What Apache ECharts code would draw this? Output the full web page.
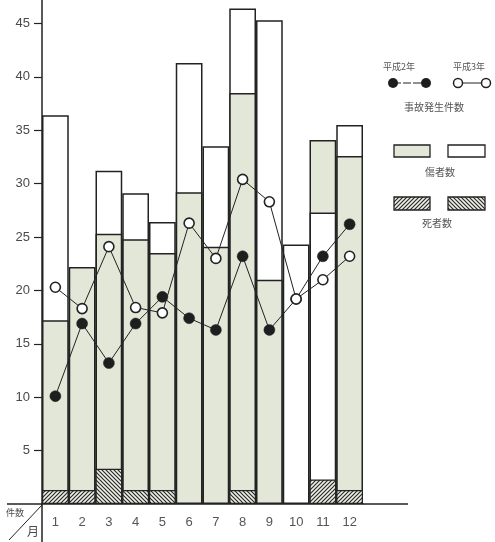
<!DOCTYPE html>
<html><head><meta charset="utf-8">
<script src="https://cdn.jsdelivr.net/npm/echarts@6/dist/echarts.min.js"></script>
<style>html,body{margin:0;padding:0;background:#fff}#c{width:495px;height:542px}</style>
</head><body><div id="c"></div>
<script>
const months = ['1','2','3','4','5','6','7','8','9','10','11','12'];
// 傷者数 平成2年 (green) / 平成3年 (white)
const injured2 = [17.2, 22.2, 25.3, 24.8, 23.5, 29.2, 24.1, 38.5, 21.0, null, 34.1, 32.6];
const injured3 = [36.4, null, 31.2, 29.1, 26.4, 41.3, 33.5, 46.4, 45.3, 24.3, 27.3, 35.5];
// 死者数 平成2年 (////) / 平成3年 (\\\\)
const deaths2 = [1.3, 1.3, null, null, null, null, null, null, null, null, 2.3, 1.3];
const deaths3 = [null, null, 3.3, 1.3, 1.3, null, null, 1.3, null, null, null, null];
// 事故発生件数
const accidents2 = [10.1, 16.9, 13.2, 16.9, 19.4, 17.4, 16.3, 23.2, 16.3, 19.2, 23.2, 26.2];
const accidents3 = [20.3, 18.3, 24.1, 18.4, 17.9, 26.3, 23.0, 30.4, 28.3, 19.2, 21.0, 23.2];
const yTicks = [5, 10, 15, 20, 25, 30, 35, 40, 45];

const GREEN = '#e3e7d8';
const INK = '#222';

function hatch(dir) {
  const s = 4, c = document.createElement('canvas');
  c.width = s; c.height = s;
  const g = c.getContext('2d');
  g.fillStyle = '#eef0e6'; g.fillRect(0, 0, s, s);
  g.strokeStyle = '#2a2a2a'; g.lineWidth = 1.2;
  g.beginPath();
  if (dir > 0) {
    g.moveTo(-1, s + 1); g.lineTo(s + 1, -1);
    g.moveTo(-1, 1); g.lineTo(1, -1);
    g.moveTo(s - 1, s + 1); g.lineTo(s + 1, s - 1);
  } else {
    g.moveTo(-1, -1); g.lineTo(s + 1, s + 1);
    g.moveTo(s - 1, -1); g.lineTo(s + 1, 1);
    g.moveTo(-1, s - 1); g.lineTo(1, s + 1);
  }
  g.stroke();
  return { image: c, repeat: 'repeat' };
}
const hatchFwd = hatch(1), hatchBack = hatch(-1);

// overlapped bars: taller value behind, shorter in front
const backData = [], frontData = [];
months.forEach((m, i) => {
  const a = injured2[i], b = injured3[i];
  const ca = { color: GREEN }, cb = { color: '#fff' };
  if (a == null && b == null) { backData.push('-'); frontData.push('-'); }
  else if (a == null) { backData.push({ value: b, itemStyle: cb }); frontData.push('-'); }
  else if (b == null) { backData.push({ value: a, itemStyle: ca }); frontData.push('-'); }
  else if (a >= b) { backData.push({ value: a, itemStyle: ca }); frontData.push({ value: b, itemStyle: cb }); }
  else { backData.push({ value: b, itemStyle: cb }); frontData.push({ value: a, itemStyle: ca }); }
});

const barBase = { type: 'bar', barGap: '-100%', barCategoryGap: '0%', silent: true };
const chart = echarts.init(document.getElementById('c'), null, { renderer: 'canvas' });
const txt = '#4a4a4a';
const FONT = '"Noto Sans CJK JP", "Liberation Sans", sans-serif';

chart.setOption({
  animation: false,
  backgroundColor: '#fff',
  grid: { left: 42, top: 0, width: 321, height: 504, containLabel: false },
  xAxis: {
    type: 'category', data: months,
    axisLine: { lineStyle: { color: INK, width: 1.5 } },
    axisTick: { show: false },
    axisLabel: { color: '#555', fontSize: 13, margin: 12, fontFamily: '"Liberation Sans", sans-serif' }
  },
  yAxis: {
    type: 'value', min: 0, max: 47.2, interval: 5,
    splitLine: { show: false },
    axisLine: { show: true, lineStyle: { color: INK, width: 1.5 } },
    axisTick: { show: true, length: 8, lineStyle: { color: INK, width: 1.2 }, customValues: yTicks },
    axisLabel: { color: txt, fontSize: 13, margin: 12, customValues: yTicks, fontFamily: '"Liberation Sans", sans-serif' }
  },
  series: [
    Object.assign({}, barBase, { name: 'back', data: backData, z: 2, itemStyle: { borderColor: INK, borderWidth: 1.5 } }),
    Object.assign({}, barBase, { name: 'front', data: frontData, z: 3, itemStyle: { borderColor: INK, borderWidth: 1.5 } }),
    Object.assign({}, barBase, { name: '死者数 平成2年', data: deaths2, z: 4, itemStyle: { color: hatchFwd, borderColor: INK, borderWidth: 1.2 } }),
    Object.assign({}, barBase, { name: '死者数 平成3年', data: deaths3, z: 4, itemStyle: { color: hatchBack, borderColor: INK, borderWidth: 1.2 } }),
    { type: 'line', name: '事故発生件数 平成2年', data: accidents2, z: 6, silent: true,
      symbol: 'circle', symbolSize: 11,
      lineStyle: { color: INK, width: 1 }, itemStyle: { color: '#1e1e1e', borderColor: INK, borderWidth: 0.5 } },
    { type: 'line', name: '事故発生件数 平成3年', data: accidents3, z: 7, silent: true,
      symbol: 'circle', symbolSize: 10,
      lineStyle: { color: INK, width: 1 }, itemStyle: { color: '#fff', borderColor: INK, borderWidth: 1.6 } }
  ],
  graphic: [
    // axis extensions and corner
    { type: 'line', silent: true, shape: { x1: 7, y1: 504, x2: 42, y2: 504 }, style: { stroke: INK, lineWidth: 1.5 } },
    { type: 'line', silent: true, shape: { x1: 363, y1: 504, x2: 408, y2: 504 }, style: { stroke: INK, lineWidth: 1.5 } },
    { type: 'line', silent: true, shape: { x1: 42, y1: 504, x2: 42, y2: 542 }, style: { stroke: INK, lineWidth: 1.5 } },
    { type: 'line', silent: true, shape: { x1: 9, y1: 540, x2: 42, y2: 505 }, style: { stroke: INK, lineWidth: 1 } },
    { type: 'text', silent: true, style: { text: '件数', x: 6, y: 513, fontSize: 9, fill: txt, textVerticalAlign: 'middle', fontFamily: FONT } },
    { type: 'text', silent: true, style: { text: '月', x: 27, y: 531, fontSize: 12, fill: txt, textVerticalAlign: 'middle', fontFamily: FONT } },
    // legend
    { type: 'text', silent: true, style: { text: '平成2年', x: 399, y: 67, fontSize: 9, fill: '#555', textAlign: 'center', textVerticalAlign: 'middle', fontFamily: FONT } },
    { type: 'text', silent: true, style: { text: '平成3年', x: 469, y: 67, fontSize: 9, fill: '#555', textAlign: 'center', textVerticalAlign: 'middle', fontFamily: FONT } },
    { type: 'line', silent: true, shape: { x1: 393, y1: 83, x2: 426, y2: 83 }, style: { stroke: INK, lineWidth: 1, lineDash: [8, 2] } },
    { type: 'circle', silent: true, shape: { cx: 393, cy: 83, r: 5 }, style: { fill: '#1e1e1e' } },
    { type: 'circle', silent: true, shape: { cx: 426, cy: 83, r: 5 }, style: { fill: '#1e1e1e' } },
    { type: 'line', silent: true, shape: { x1: 458, y1: 83, x2: 486, y2: 83 }, style: { stroke: INK, lineWidth: 1 } },
    { type: 'circle', silent: true, z: 10, shape: { cx: 458, cy: 83, r: 4.5 }, style: { fill: '#fff', stroke: INK, lineWidth: 1.5 } },
    { type: 'circle', silent: true, z: 10, shape: { cx: 486, cy: 83, r: 4.5 }, style: { fill: '#fff', stroke: INK, lineWidth: 1.5 } },
    { type: 'text', silent: true, style: { text: '事故発生件数', x: 434, y: 107, fontSize: 10, fill: '#555', textAlign: 'center', textVerticalAlign: 'middle', fontFamily: FONT } },
    { type: 'rect', silent: true, shape: { x: 394, y: 145, width: 36, height: 12 }, style: { fill: GREEN, stroke: INK, lineWidth: 1.3 } },
    { type: 'rect', silent: true, shape: { x: 448, y: 145, width: 37, height: 12 }, style: { fill: '#fff', stroke: INK, lineWidth: 1.3 } },
    { type: 'text', silent: true, style: { text: '傷者数', x: 440, y: 172, fontSize: 10, fill: '#555', textAlign: 'center', textVerticalAlign: 'middle', fontFamily: FONT } },
    { type: 'rect', silent: true, shape: { x: 394, y: 197, width: 36, height: 13 }, style: { fill: hatchFwd, stroke: INK, lineWidth: 1.3 } },
    { type: 'rect', silent: true, shape: { x: 448, y: 197, width: 37, height: 13 }, style: { fill: hatchBack, stroke: INK, lineWidth: 1.3 } },
    { type: 'text', silent: true, style: { text: '死者数', x: 437, y: 223, fontSize: 10, fill: '#555', textAlign: 'center', textVerticalAlign: 'middle', fontFamily: FONT } }
  ]
});
</script>
</body></html>
